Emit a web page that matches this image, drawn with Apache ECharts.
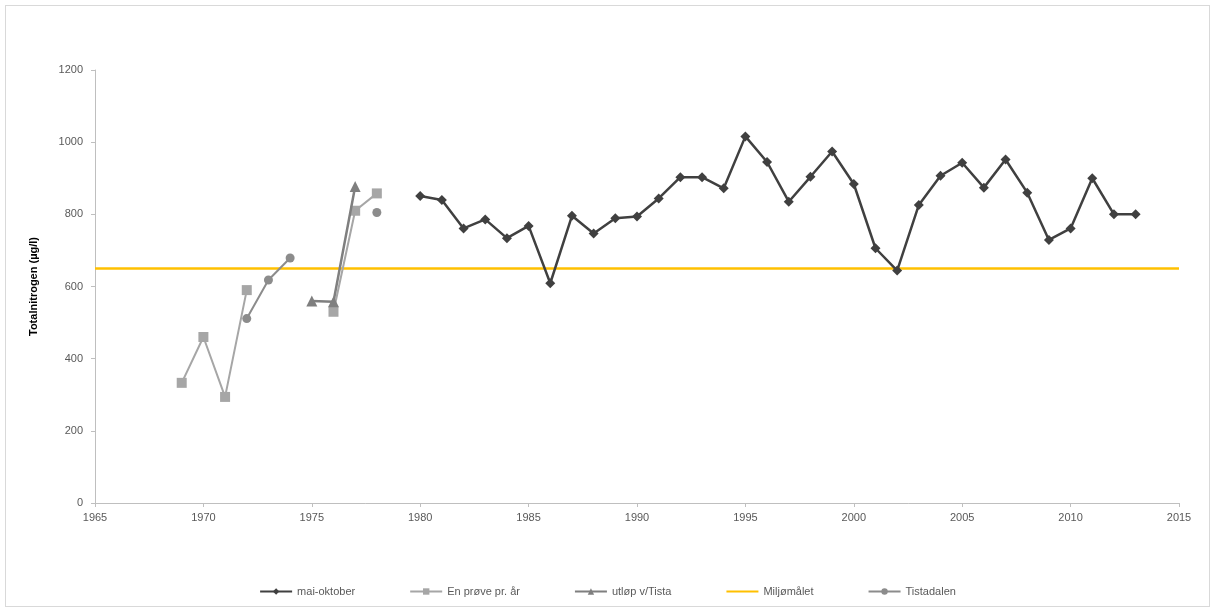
<!DOCTYPE html>
<html>
<head>
<meta charset="utf-8">
<script src="https://cdn.jsdelivr.net/npm/echarts@6/dist/echarts.min.js"></script>
<style>
html,body{margin:0;padding:0;background:#fff;}
#chart{width:1215px;height:612px;}
#frame{position:absolute;left:5px;top:5px;width:1203px;height:600px;border:1px solid #d9d9d9;pointer-events:none;}
</style>
</head>
<body>
<div id="chart"></div>
<div id="frame"></div>
<script>
// Data
const maiYears = [1980,1981,1982,1983,1984,1985,1986,1987,1988,1989,1990,1991,1992,1993,1994,1995,1996,1997,1998,1999,2000,2001,2002,2003,2004,2005,2006,2007,2008,2009,2010,2011,2012,2013];
const maiValues = [851,840,761,786,734,768,609,796,747,789,794,844,903,903,872,1016,945,835,904,974,884,706,644,826,907,943,874,952,860,729,761,900,800,800];

const enProveYears = [1969,1970,1971,1972,1973,1974,1975,1976,1977,1978];
const enProveValues = [333,460,294,590,null,null,null,530,810,858];

const utlopYears = [1975,1976,1977];
const utlopValues = [560,558,877];

const miljoYears = [1965,2015];
const miljoValues = [650,650];

const tistaYears = [1972,1973,1974,1975,1976,1977,1978];
const tistaValues = [511,618,679,null,null,null,805];

const xTicks = {min:1965,max:2015,interval:5};
const yTicks = {min:0,max:1200,interval:200};

const pairs = (xs, ys) => xs.map((x,i)=>[x, ys[i]]);

const chart = echarts.init(document.getElementById('chart'), null, {renderer:'canvas'});
const axisLabel = {color:'#595959', fontSize:11, fontFamily:'Liberation Sans, Arial, sans-serif'};
chart.setOption({
  animation:false,
  backgroundColor:'#fff',
  grid:{left:95, right:36, top:70, bottom:109},
  xAxis:{
    type:'value', min:xTicks.min, max:xTicks.max, interval:xTicks.interval,
    splitLine:{show:false},
    axisLine:{lineStyle:{color:'#BFBFBF', width:1}},
    axisTick:{show:true, length:4, lineStyle:{color:'#BFBFBF'}},
    axisLabel:Object.assign({margin:9, formatter:v=>String(v)}, axisLabel)
  },
  yAxis:{
    type:'value', min:yTicks.min, max:yTicks.max, interval:yTicks.interval,
    name:'Totalnitrogen (µg/l)', nameLocation:'middle', nameGap:56, nameRotate:90,
    nameTextStyle:{color:'#000', fontSize:11, fontWeight:'bold', fontFamily:'Liberation Sans, Arial, sans-serif'},
    splitLine:{show:false},
    axisLine:{show:true, lineStyle:{color:'#BFBFBF', width:1}},
    axisTick:{show:true, length:4, lineStyle:{color:'#BFBFBF'}},
    axisLabel:Object.assign({margin:12, formatter:v=>String(v)}, axisLabel)
  },
  legend:{
    bottom:10, left:'center', itemGap:54, itemWidth:32, itemHeight:8,
    textStyle:{color:'#595959', fontSize:11, fontFamily:'Liberation Sans, Arial, sans-serif'},
    data:['mai-oktober','En prøve pr. år','utløp v/Tista',
          {name:'Miljømålet', itemStyle:{opacity:0}},'Tistadalen']
  },
  series:[
    {name:'mai-oktober', type:'line', data:pairs(maiYears, maiValues),
     symbol:'diamond', symbolSize:10, itemStyle:{color:'#404040'},
     lineStyle:{color:'#404040', width:2.5}, z:5},
    {name:'En prøve pr. år', type:'line', data:pairs(enProveYears, enProveValues), connectNulls:false,
     symbol:'rect', symbolSize:10, itemStyle:{color:'#A6A6A6'},
     lineStyle:{color:'#A6A6A6', width:2}, z:3},
    {name:'utløp v/Tista', type:'line', data:pairs(utlopYears, utlopValues),
     symbol:'triangle', symbolSize:11, itemStyle:{color:'#7F7F7F'},
     lineStyle:{color:'#7F7F7F', width:2.5}, z:4},
    {name:'Miljømålet', type:'line', data:pairs(miljoYears, miljoValues),
     symbol:'none', itemStyle:{color:'#FFC000'},
     lineStyle:{color:'#FFC000', width:2.5}, z:2},
    {name:'Tistadalen', type:'line', data:pairs(tistaYears, tistaValues), connectNulls:false,
     symbol:'circle', symbolSize:9, itemStyle:{color:'#8C8C8C'},
     lineStyle:{color:'#8C8C8C', width:2}, z:4}
  ]
});
</script>
</body>
</html>
